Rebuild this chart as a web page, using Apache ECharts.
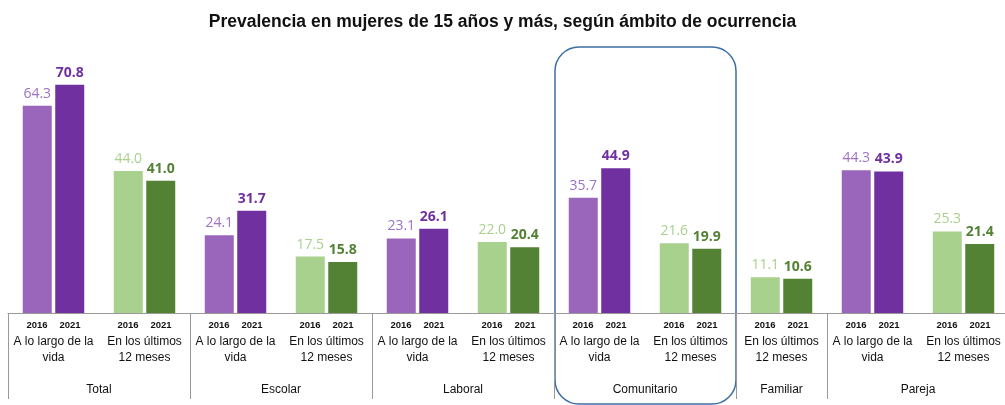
<!DOCTYPE html>
<html>
<head>
<meta charset="utf-8">
<script src="https://cdn.jsdelivr.net/npm/echarts@6/dist/echarts.min.js"></script>
<style>
  html, body { margin: 0; padding: 0; background: #fff; }
  #chart { width: 1005px; height: 405px; }
</style>
</head>
<body>
<div id="chart"></div>
<script>
// groups of the chart and their values (null = not reported)
const groups = ["Total", "Escolar", "Laboral", "Comunitario", "Familiar", "Pareja"];
const vida2016 = [64.3, 24.1, 23.1, 35.7, null, 44.3];
const vida2021 = [70.8, 31.7, 26.1, 44.9, null, 43.9];
const meses2016 = [44.0, 17.5, 22.0, 21.6, 11.1, 25.3];
const meses2021 = [41.0, 15.8, 20.4, 19.9, 10.6, 21.4];
const years = ["2016", "2021"];
const subLabels = {
  vida: "A lo largo de la\nvida",
  meses: "En los últimos\n12 meses"
};
const highlighted = "Comunitario";

const colors = {
  vida: { bar: ["#9966bb", "#7030a0"], text: ["#9d72c4", "#7030a0"] },
  meses: { bar: ["#a9d18e", "#548235"], text: ["#a9d18e", "#548235"] }
};

// expand groups into sub-categories
const cats = [];
const groupStarts = [];
const groupCenters = [];
groups.forEach((g, i) => {
  const start = cats.length;
  groupStarts.push(start);
  if (vida2016[i] != null) cats.push({ group: g, kind: "vida", v: [vida2016[i], vida2021[i]] });
  if (meses2016[i] != null) cats.push({ group: g, kind: "meses", v: [meses2016[i], meses2021[i]] });
  groupCenters.push((start + cats.length) / 2);
});
groupStarts.push(cats.length);

function seriesData(yi) {
  return cats.map((c) => ({
    value: c.v[yi],
    itemStyle: { color: colors[c.kind].bar[yi] },
    label: { color: colors[c.kind].text[yi] }
  }));
}

const chart = echarts.init(document.getElementById("chart"));

const option = {
  backgroundColor: "#fff",
  animation: false,
  title: {
    text: "Prevalencia en mujeres de 15 años y más, según ámbito de ocurrencia",
    left: "center",
    top: 8,
    textStyle: { fontFamily: "Liberation Sans", fontSize: 17.5, fontWeight: "bold", color: "#111" }
  },
  grid: { left: 8, width: 1001, top: 55, bottom: 92, outerBoundsMode: "none", containLabel: false },
  xAxis: [
    {
      type: "category",
      data: cats.map((c, i) => i),
      axisLine: { lineStyle: { color: "#999", width: 1 } },
      axisTick: { show: false },
      axisLabel: {
        interval: 0,
        margin: 3,
        formatter: (v) => {
          const c = cats[v];
          const lines = subLabels[c.kind].split("\n").map((l) => "{t|" + l + "}");
          return "{y|" + years[0] + "}{y|" + years[1] + "}\n" + lines.join("\n");
        },
        rich: {
          y: { width: 33, align: "center", fontFamily: "Liberation Sans", fontSize: 9.5, fontWeight: "bold", color: "#111", lineHeight: 18 },
          t: { fontFamily: "Liberation Sans", fontSize: 12, color: "#111", lineHeight: 16, align: "center" }
        }
      }
    },
    {
      type: "value",
      min: 0,
      max: cats.length,
      position: "bottom",
      axisLine: { show: false },
      splitLine: { show: false },
      axisTick: {
        show: true,
        length: 86,
        customValues: groupStarts,
        lineStyle: { color: "#999", width: 1 }
      },
      axisLabel: {
        margin: 71,
        customValues: groupCenters,
        formatter: (v) => groups[groupCenters.indexOf(v)] || "",
        fontFamily: "Liberation Sans",
        fontSize: 12,
        color: "#111"
      }
    }
  ],
  yAxis: { type: "value", min: 0, max: 80, show: false },
  series: years.map((y, yi) => ({
    name: y,
    type: "bar",
    xAxisIndex: 0,
    barWidth: 29,
    barGap: "12%",
    data: seriesData(yi),
    label: {
      show: true,
      position: "top",
      distance: 5,
      fontFamily: "Open Sans",
      fontSize: 14,
      fontWeight: yi === 0 ? "normal" : "bold",
      formatter: (p) => p.value.toFixed(1)
    }
  }))
};

chart.setOption(option);

// rounded frame around the highlighted group
const hi = groups.indexOf(highlighted);
const x0 = chart.convertToPixel({ xAxisIndex: 1 }, groupStarts[hi]);
const x1 = chart.convertToPixel({ xAxisIndex: 1 }, groupStarts[hi + 1]);
chart.setOption({
  graphic: [{
    type: "rect",
    shape: { x: x0 + 1, y: 47, width: x1 - x0 - 1, height: 357, r: 24 },
    style: { fill: "none", stroke: "#3d6fa3", lineWidth: 1.5 },
    silent: true
  }]
});
</script>
</body>
</html>
